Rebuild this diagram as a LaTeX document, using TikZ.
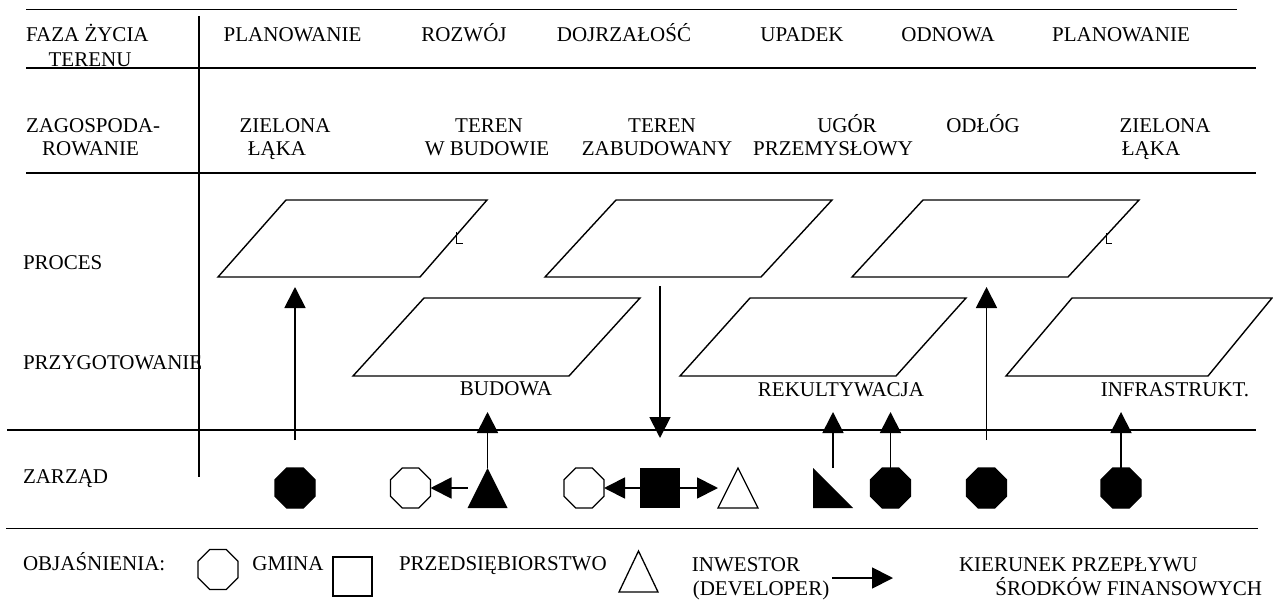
\documentclass[tikz,border=0pt]{standalone}
\usepackage{fontspec}
\setmainfont{Liberation Serif}
\usetikzlibrary{arrows.meta,shapes.geometric}
\begin{document}
\begin{tikzpicture}[x=1pt,y=-1pt]
\tikzset{
 rule/.style={line width=1.8pt},
 para/.style={line width=1.4pt, line join=miter},
 arr/.style={line width=1.8pt, -{Triangle[length=21pt,width=21pt]}},
 lbl/.style={font=\fontsize{21}{24}\selectfont, inner sep=0pt, outer sep=0pt},
 octo/.style={regular polygon, regular polygon sides=8, minimum size=43.3pt, inner sep=0pt, outer sep=0pt, draw, line width=1.3pt},
 octfill/.style={octo, fill=black},
 symbox/.style={minimum width=40pt, minimum height=40pt, inner sep=0pt, outer sep=0pt},
 shapeline/.style={line width=1.3pt, line join=miter},
 tinymark/.style={line width=0.8pt},
}
\useasboundingbox (0,0) rectangle (1273,607);

% table rules
\draw[rule] (26,9.5) -- (1237,9.5);
\draw[rule] (26,68) -- (1256,68);
\draw[rule] (26,173) -- (1256,173);
\draw[rule] (7,430) -- (1256,430);
\draw[rule] (6,528.5) -- (1258,528.5);
\draw[rule] (199,16) -- (199,477);

% header row
\node[lbl, anchor=base west] (fazaA) at (26,42) {FAZA ŻYCIA};
\node[lbl, anchor=base] (fazaB) at (90,67) {TERENU};
\node[lbl, anchor=base] (h1) at (292.5,42) {PLANOWANIE};
\node[lbl, anchor=base] (h2) at (464,42) {ROZWÓJ};
\node[lbl, anchor=base] (h3) at (624,42) {DOJRZAŁOŚĆ};
\node[lbl, anchor=base] (h4) at (802,42) {UPADEK};
\node[lbl, anchor=base] (h5) at (948,42) {ODNOWA};
\node[lbl, anchor=base] (h6) at (1121,42) {PLANOWANIE};

% second row
\node[lbl, anchor=base west] (zagA) at (26,132) {ZAGOSPODA-};
\node[lbl, anchor=base] (zagB) at (90.5,155) {ROWANIE};
\node[lbl, anchor=base] (z1a) at (285,132) {ZIELONA};
\node[lbl, anchor=base] (z1b) at (277,155) {ŁĄKA};
\node[lbl, anchor=base] (z2a) at (489,132) {TEREN};
\node[lbl, anchor=base] (z2b) at (487,155) {W BUDOWIE};
\node[lbl, anchor=base] (z3a) at (662,132) {TEREN};
\node[lbl, anchor=base] (z3b) at (657,155) {ZABUDOWANY};
\node[lbl, anchor=base] (z4a) at (847,132) {UGÓR};
\node[lbl, anchor=base] (z4b) at (833,155) {PRZEMYSŁOWY};
\node[lbl, anchor=base] (z5a) at (983,132) {ODŁÓG};
\node[lbl, anchor=base] (z6a) at (1165,132) {ZIELONA};
\node[lbl, anchor=base] (z6b) at (1151,155) {ŁĄKA};

% row labels
\node[lbl, anchor=base west] (rProces) at (23,269) {PROCES};
\node[lbl, anchor=base west] (rPrzyg) at (23,369) {PRZYGOTOWANIE};
\node[lbl, anchor=base west] (rZarzad) at (23,483) {ZARZĄD};

% parallelograms
\draw[para] (218,277) -- (420,277) -- (487,200) -- (286,200) -- cycle;
\draw[para] (545,277) -- (761,277) -- (832,200) -- (616,200) -- cycle;
\draw[para] (852,277) -- (1068,277) -- (1139,200) -- (923,200) -- cycle;
\draw[para] (353,376) -- (569,376) -- (640,298) -- (424,298) -- cycle;
\draw[para] (680,376) -- (896,376) -- (966,298) -- (750,298) -- cycle;
\draw[para] (1006,376) -- (1208,376) -- (1272,298) -- (1072,298) -- cycle;

% small marks beside parallelograms
\draw[tinymark] (456,232) -- (456,243) -- (463,243);
\draw[tinymark] (1106,233) -- (1106,243) -- (1112,243);

% labels under parallelograms
\node[lbl, anchor=base] (lBud) at (506,395) {BUDOWA};
\node[lbl, anchor=base] (lRek) at (841,396) {REKULTYWACJA};
\node[lbl, anchor=base] (lInf) at (1175,396) {INFRASTRUKT.};

% management symbols
\node[octfill] (o1) at (295,488) {};
\node[octo] (oA) at (410.5,488) {};
\node[symbox] (tA) at (487.5,488) {};
\fill (tA.south west) -- (tA.south east) -- (tA.north) -- cycle;
\node[octo] (oB) at (584,488) {};
\node[symbox, fill=black] (sq) at (660,488) {};
\node[symbox] (tB) at (738,488) {};
\draw[shapeline] (tB.south west) -- (tB.south east) -- (tB.north) -- cycle;
\node[symbox] (rt) at (833,488) {};
\fill (rt.north west) -- (rt.south west) -- (rt.south east) -- cycle;
\node[octfill] (oC) at (890.5,488) {};
\node[octfill] (oD) at (986.5,488) {};
\node[octfill] (oE) at (1121,488) {};

% free ends of connectors
\coordinate (s1) at (295,440);
\coordinate (e1) at (295,287);
\coordinate (e2) at (487.5,412);
\coordinate (s3) at (660,286);
\coordinate (e3) at (660,438);
\coordinate (e4) at (833,412);
\coordinate (e5) at (890.5,412);
\coordinate (s6) at (986.5,440);
\coordinate (e6) at (986.5,287);
\coordinate (e7) at (1121,412);

% connectors
\draw[arr] (s1) -- (e1);
\draw[arr] (tA.north) -- (e2);
\draw[arr] (s3) -- (e3);
\draw[arr] (rt.north) -- (e4);
\draw[arr] (oC.north) -- (e5);
\draw[arr] (s6) -- (e6);
\draw[arr] (oE.north) -- (e7);
\draw[arr] (tA.west) -- (oA.east);
\draw[arr] (sq.west) -- (oB.east);
\draw[arr] (sq.east) -- (tB.west);

% legend
\node[lbl, anchor=base west] (legT) at (23,570) {OBJAŚNIENIA:};
\node[octo] (lOct) at (218,569.5) {};
\node[lbl, anchor=base] (legG) at (288,570) {GMINA};
\node[symbox, draw, line width=1.3pt, minimum width=39pt, minimum height=39pt] (lSq) at (352.5,576.5) {};
\node[lbl, anchor=base west] (legP) at (399,570) {PRZEDSIĘBIORSTWO};
\node[symbox, minimum width=39pt, minimum height=41pt] (lTri) at (638.5,571.5) {};
\draw[shapeline] (lTri.south west) -- (lTri.south east) -- (lTri.north) -- cycle;
\node[lbl, anchor=base] (legI1) at (746,571) {INWESTOR};
\node[lbl, anchor=base] (legI2) at (761,595) {(DEVELOPER)};
\coordinate (la1) at (832,578);
\coordinate (la2) at (893,578);
\draw[arr] (la1) -- (la2);
\node[lbl, anchor=base west] (legK1) at (959,571) {KIERUNEK PRZEPŁYWU};
\node[lbl, anchor=base east] (legK2) at (1262,595) {ŚRODKÓW FINANSOWYCH};
\end{tikzpicture}
\end{document}
